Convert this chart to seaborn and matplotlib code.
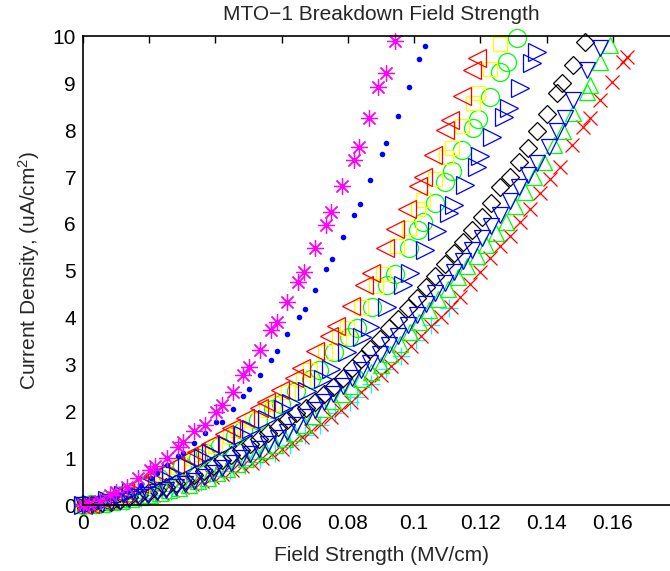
import numpy as np
import pandas as pd
import seaborn as sns
import matplotlib
matplotlib.use("Agg")
import matplotlib.pyplot as plt
from matplotlib.ticker import FormatStrFormatter

# field strength (MV/cm) and current density (uA/cm^2) for each sample
mag_x = [0, .0017, .0050, .0082, .0100, .0132, .0167, .0202, .0218, .0253,
         .0286, .0301, .0335, .0369, .0402, .0419, .0452, .0484, .0502, .0535,
         .0567, .0585, .0617, .0650, .0667, .0701, .0733, .0748, .0783, .0817,
         .0832, .0865, .0890, .0915, .0943]
mag_y = [0, .02, .10, .22, .28, .40, .58, .75, .85, 1.02,
         1.25, 1.35, 1.59, 1.71, 1.99, 2.14, 2.42, 2.78, 2.96, 3.31,
         3.74, 3.92, 4.34, 4.77, 4.98, 5.48, 5.98, 6.26, 6.81, 7.36,
         7.65, 8.27, 8.93, 9.21, 9.90]

dot_x = [0, .0018, .0055, .0090, .0105, .0140, .0175, .0205, .0222, .0253,
         .0286, .0303, .0336, .0369, .0402, .0419, .0452, .0484, .0501, .0535,
         .0567, .0585, .0617, .0653, .0671, .0701, .0733, .0752, .0785, .0819,
         .0835, .0867, .0902, .0915, .0950, .0983, .1016, .1033]
dot_y = [0, .02, .08, .16, .22, .32, .44, .58, .68, .86,
         1.05, 1.12, 1.34, 1.55, 1.78, 1.78, 2.06, 2.33, 2.48, 2.78,
         3.11, 3.29, 3.65, 4.02, 4.18, 4.59, 5.04, 5.26, 5.72, 6.19,
         6.43, 6.94, 7.49, 7.73, 8.31, 8.91, 9.51, 9.80]

rl_x = [0, .0022, .0064, .0106, .0127, .0170, .0212, .0234, .0277, .0320,
        .0341, .0383, .0426, .0447, .0490, .0532, .0553, .0596, .0638, .0659,
        .0702, .0744, .0765, .0808, .0850, .0871, .0912, .0943, .0978, .1013,
        .1028, .1058, .1094, .1109, .1144, .1174, .1189]
rl_y = [0, .03, .12, .24, .30, .45, .62, .70, .86, 1.04,
        1.14, 1.30, 1.52, 1.64, 1.86, 2.08, 2.20, 2.46, 2.72, 2.92,
        3.30, 3.62, 3.82, 4.25, 4.70, 4.95, 5.48, 5.89, 6.33, 6.82,
        7.01, 7.47, 8.00, 8.22, 8.73, 9.28, 9.53]

ys_x = [0, .0023, .0067, .0110, .0132, .0177, .0221, .0243, .0288, .0333,
        .0355, .0398, .0443, .0465, .0510, .0553, .0575, .0620, .0664, .0685,
        .0730, .0774, .0796, .0840, .0884, .0906, .0948, .0983, .1013, .1028,
        .1063, .1097, .1114, .1144, .1179, .1194, .1230, .1260]
ys_y = [0, .03, .11, .21, .27, .42, .58, .66, .82, 1.00,
        1.10, 1.26, 1.48, 1.60, 1.82, 2.04, 2.16, 2.42, 2.68, 2.88,
        3.26, 3.58, 3.78, 4.22, 4.68, 4.93, 5.52, 5.91, 6.31, 6.51,
        6.95, 7.42, 7.63, 8.09, 8.57, 8.79, 9.30, 9.84]

go_x = [0, .0024, .0069, .0114, .0137, .0184, .0229, .0253, .0299, .0346,
        .0368, .0414, .0460, .0483, .0529, .0575, .0597, .0644, .0689, .0712,
        .0758, .0804, .0826, .0873, .0918, .0941, .0983, .1013, .1028, .1063,
        .1094, .1114, .1144, .1179, .1194, .1228, .1260, .1280, .1310]
go_y = [0, .03, .11, .22, .28, .43, .59, .67, .83, 1.01,
        1.11, 1.27, 1.49, 1.61, 1.83, 2.05, 2.17, 2.43, 2.69, 2.89,
        3.27, 3.59, 3.79, 4.23, 4.69, 4.94, 5.48, 5.87, 6.05, 6.45,
        6.90, 7.12, 7.58, 8.04, 8.23, 8.71, 9.25, 9.46, 9.96]

br_x = [0, .0025, .0073, .0120, .0144, .0193, .0241, .0266, .0314, .0363,
        .0387, .0435, .0484, .0507, .0556, .0604, .0628, .0676, .0724, .0748,
        .0797, .0844, .0868, .0917, .0965, .0989, .1033, .1068, .1104, .1119,
        .1154, .1189, .1199, .1235, .1270, .1285, .1320, .1356, .1371]
br_y = [0, .03, .11, .22, .28, .43, .60, .68, .84, 1.02,
        1.12, 1.28, 1.50, 1.62, 1.84, 2.06, 2.18, 2.44, 2.70, 2.90,
        3.28, 3.60, 3.80, 4.24, 4.70, 4.95, 5.45, 5.84, 6.23, 6.41,
        6.83, 7.22, 7.44, 7.86, 8.29, 8.47, 8.89, 9.43, 9.67]

kd_x = [0, .0028, .0056, .0084, .0112, .0140, .0168, .0196, .0224, .0252,
        .0280, .0308, .0336, .0364, .0392, .0420, .0448, .0476, .0504, .0532,
        .0560, .0588, .0616, .0644, .0672, .0700, .0728, .0756, .0784, .0812,
        .0840, .0868, .0896, .0924, .0952, .0980, .1008, .1036, .1064, .1092,
        .1120, .1148, .1176, .1204, .1232, .1260, .1288, .1316, .1344, .1372,
        .1400, .1430, .1446, .1481, .1517]
kd_y = [0, .02, .05, .08, .12, .17, .22, .27, .33, .39,
        .47, .55, .64, .74, .85, .96, 1.07, 1.18, 1.30, 1.42,
        1.55, 1.68, 1.82, 1.96, 2.08, 2.20, 2.37, 2.53, 2.72, 2.92,
        3.12, 3.33, 3.55, 3.78, 3.98, 4.20, 4.42, 4.66, 4.90, 5.15,
        5.39, 5.62, 5.88, 6.14, 6.45, 6.78, 7.00, 7.33, 7.62, 7.98,
        8.35, 8.80, 9.00, 9.39, 9.89]

bv_x = [0, .0028, .0056, .0084, .0112, .0140, .0168, .0196, .0224, .0252,
        .0280, .0308, .0336, .0364, .0392, .0420, .0448, .0476, .0504, .0532,
        .0560, .0588, .0616, .0644, .0672, .0700, .0728, .0756, .0784, .0812,
        .0840, .0868, .0896, .0924, .0952, .0980, .1008, .1036, .1064, .1092,
        .1120, .1148, .1176, .1204, .1232, .1260, .1288, .1316, .1344, .1371,
        .1406, .1431, .1456, .1481, .1522, .1562]
bv_y = [0, .01, .04, .07, .10, .14, .18, .23, .28, .33,
        .39, .46, .53, .61, .70, .80, .90, 1.00, 1.10, 1.20,
        1.31, 1.43, 1.57, 1.72, 1.88, 2.04, 2.20, 2.37, 2.54, 2.72,
        2.88, 3.04, 3.22, 3.42, 3.62, 3.84, 4.06, 4.30, 4.52, 4.75,
        4.98, 5.22, 5.45, 5.70, 5.95, 6.20, 6.48, 6.78, 7.05, 7.29,
        7.65, 7.98, 8.25, 8.64, 9.28, 9.75]

gt_x = [0, .0029, .0058, .0087, .0116, .0145, .0174, .0203, .0232, .0261,
        .0290, .0319, .0348, .0377, .0406, .0435, .0464, .0493, .0522, .0551,
        .0580, .0609, .0638, .0667, .0696, .0725, .0754, .0783, .0812, .0841,
        .0870, .0899, .0928, .0957, .0986, .1015, .1044, .1073, .1102, .1131,
        .1160, .1189, .1218, .1247, .1276, .1305, .1334, .1363, .1392, .1421,
        .1450, .1481, .1522, .1532, .1562, .1592]
gt_y = [0, .01, .04, .07, .10, .14, .18, .22, .27, .32,
        .38, .44, .51, .58, .68, .78, .88, .99, 1.09, 1.18,
        1.29, 1.41, 1.55, 1.72, 1.90, 2.05, 2.22, 2.38, 2.55, 2.70,
        2.85, 3.00, 3.22, 3.45, 3.70, 3.92, 4.17, 4.40, 4.62, 4.88,
        5.10, 5.32, 5.55, 5.80, 6.05, 6.38, 6.68, 7.00, 7.32, 7.68,
        7.98, 8.36, 8.82, 8.96, 9.46, 9.82]

rx_x = [0, .0030, .0060, .0090, .0120, .0150, .0180, .0210, .0240, .0270,
        .0300, .0330, .0360, .0390, .0420, .0450, .0480, .0510, .0540, .0570,
        .0600, .0630, .0660, .0690, .0720, .0750, .0780, .0810, .0840, .0870,
        .0900, .0930, .0960, .0990, .1020, .1050, .1080, .1110, .1140, .1170,
        .1200, .1230, .1260, .1290, .1320, .1350, .1380, .1410, .1440, .1476,
        .1511, .1532, .1562, .1597, .1632, .1643]
rx_y = [0, .01, .03, .06, .09, .13, .17, .22, .27, .33,
        .40, .46, .53, .60, .67, .75, .83, .91, 1.00, 1.10,
        1.20, 1.32, 1.45, 1.58, 1.74, 1.88, 2.04, 2.21, 2.42, 2.60,
        2.78, 2.98, 3.16, 3.40, 3.62, 3.82, 4.02, 4.22, 4.45, 4.72,
        4.98, 5.28, 5.52, 5.75, 6.05, 6.33, 6.65, 6.95, 7.22, 7.68,
        8.07, 8.25, 8.64, 9.03, 9.46, 9.57]

cp_x = [0, .0040, .0085, .0130, .0175, .0220, .0265, .0310, .0355, .0400,
        .0445, .0490, .0535, .0580, .0625, .0670, .0715, .0760, .0805, .0827,
        .0870, .0915, .0960, .1005, .1050, .1105]
cp_y = [0, .01, .05, .10, .15, .22, .30, .40, .50, .62,
        .74, .86, .99, 1.12, 1.28, 1.50, 1.72, 1.96, 2.20, 2.32,
        2.58, 2.90, 3.18, 3.52, 3.85, 4.20]

x_ticks = [0, 0.02, 0.04, 0.06, 0.08, 0.1, 0.12, 0.14, 0.16]
y_ticks = list(range(0, 11))

sns.set_style("white")
plt.rcParams['font.family'] = ['Liberation Sans', 'DejaVu Sans']
plt.rcParams['mathtext.fontset'] = 'custom'
plt.rcParams['mathtext.rm'] = 'Liberation Sans'
plt.rcParams['mathtext.it'] = 'Liberation Sans'

fig = plt.figure(figsize=(6.7, 5.71), dpi=100)
ax = fig.add_axes([0.1239, 0.1149, 0.8896, 0.8214])

# (x, y, marker, color, size, filled) -- drawing order like the MATLAB hold-on sequence
series = [
    (cp_x, cp_y, '+', (0, 1, 1), 12.5, False),
    (rx_x, rx_y, 'x', (1, 0, 0), 9.5, False),
    (gt_x, gt_y, '^', (0, 1, 0), 12, False),
    (kd_x, kd_y, 'D', 'black', 9, False),
    (go_x, go_y, 'o', (0, 1, 0), 13, False),
    (ys_x, ys_y, 's', (1, 1, 0), 10.5, False),
    (rl_x, rl_y, '<', (1, 0, 0), 13, False),
    (bv_x, bv_y, 'v', (0, 0, 1), 12, False),
    (br_x, br_y, '>', (0, 0, 1), 13, False),
    (dot_x, dot_y, 'o', (0, 0, 1), 4, True),
    (mag_x, mag_y, (8, 2, 0), (1, 0, 1), 12, False),
]

for xs, ys, mk, c, ms, filled in series:
    df = pd.DataFrame({'E': xs, 'J': ys})
    sns.lineplot(data=df, x='E', y='J', ax=ax, estimator=None, sort=False,
                 linestyle='none', marker=mk, markersize=ms,
                 markerfacecolor=c if filled else 'none',
                 markeredgecolor=c, markeredgewidth=0 if filled else 0.9,
                 color=c, clip_on=False)

ax.set_xlim(0, 0.18)
ax.set_ylim(0, 10)
ax.set_xticks(x_ticks)
ax.set_yticks(y_ticks)
ax.xaxis.set_major_formatter(FormatStrFormatter('%g'))
ax.tick_params(direction='in', top=True, right=True, length=5, width=1,
               labelsize=15, colors='black')
ax.tick_params(axis='x', pad=6.5)
ax.tick_params(axis='y', pad=5)
for s in ax.spines.values():
    s.set_linewidth(1.2)
    s.set_color('black')

ax.set_title('MTO\u22121 Breakdown Field Strength', fontsize=15, pad=12)
ax.set_xlabel('Field Strength (MV/cm)', fontsize=15, labelpad=9)
ax.set_ylabel('Current Density, (uA/cm$^2$)', fontsize=15, labelpad=8)

fig.savefig('out.png', dpi=100)
